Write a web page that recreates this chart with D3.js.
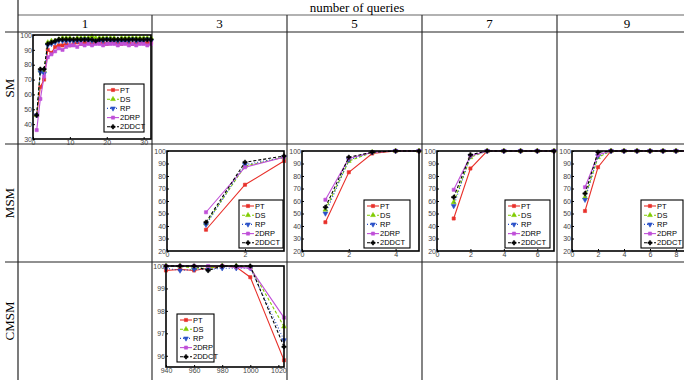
<!DOCTYPE html>
<html>
<head>
<meta charset="utf-8">
<script src="https://cdn.jsdelivr.net/npm/d3@7"></script>
<style>
  body { margin: 0; background: #fff; }
  svg { display: block; }
  .tick text { font-family: "Liberation Sans", Arial, sans-serif; }
</style>
</head>
<body>
<svg id="chart" width="684" height="380"></svg>
<script>
'use strict';

// table headers
var headerTitle = 'number of queries';
var queryCounts = ['1', '3', '5', '7', '9'];
var rowLabels = ['SM', 'MSM', 'CMSM'];
var seriesNames = ['PT', 'DS', 'RP', '2DRP', '2DDCT'];

// SM, 1 query
var smX = [1, 2, 3, 4, 5, 6, 7, 8, 9, 10, 11, 12, 13, 14, 15, 16, 17, 18, 19, 20, 21, 22, 23, 24, 25, 26, 27, 28, 29, 30, 31, 32];
var smPT    = [46, 65, 70, 90, 88, 92, 93, 93, 94, 93, 94, 95, 94, 95, 95, 94, 95, 95, 95, 94, 95, 95, 95, 94, 95, 95, 94, 95, 95, 95, 95, 95];
var smDS    = [46, 76, 76, 95, 96, 96, 97, 98, 98, 98, 97, 98, 98, 98, 98, 99, 98, 98, 98, 98, 98, 98, 97, 98, 98, 98, 98, 98, 98, 98, 98, 98];
var smRP    = [46, 75, 74, 93, 94, 95, 96, 96, 96, 96, 96, 96, 96, 97, 96, 96, 96, 96, 96, 97, 96, 96, 96, 96, 96, 96, 97, 96, 96, 96, 97, 96];
var sm2DRP  = [36, 57, 72, 85, 87, 89, 91, 90, 92, 93, 93, 92, 94, 93, 94, 93, 94, 94, 93, 94, 94, 94, 93, 94, 94, 93, 94, 93, 94, 94, 93, 94];
var sm2DDCT = [46, 77, 77, 94, 95, 96, 97, 97, 97, 97, 97, 97, 97, 97, 97, 97, 96, 97, 97, 97, 97, 97, 97, 97, 97, 97, 97, 97, 97, 97, 97, 97];

// MSM, 3 queries
var msm3X = [1, 2, 3];
var msm3PT = [37, 73, 92];
var msm3DS = [42, 88, 95];
var msm3RP = [41, 89, 95];
var msm32DRP = [51, 87, 95];
var msm32DDCT = [43, 91, 96];

// MSM, 5 queries
var msm5X = [1, 2, 3, 4, 5];
var msm5PT = [43, 83, 98, 100, 100];
var msm5DS = [53, 92, 99, 100, 100];
var msm5RP = [50, 93, 99, 100, 100];
var msm52DRP = [61, 94, 99, 100, 100];
var msm52DDCT = [55, 95, 99, 100, 100];

// MSM, 7 queries
var msm7X = [1, 2, 3, 4, 5, 6, 7];
var msm7PT = [46, 86, 100, 100, 100, 100, 100];
var msm7DS = [59, 95, 100, 100, 100, 100, 100];
var msm7RP = [56, 96, 100, 100, 100, 100, 100];
var msm72DRP = [69, 96, 100, 100, 100, 100, 100];
var msm72DDCT = [63, 97, 100, 100, 100, 100, 100];

// MSM, 9 queries
var msm9X = [1, 2, 3, 4, 5, 6, 7, 8, 9];
var msm9PT = [52, 87, 100, 100, 100, 100, 100, 100, 100];
var msm9DS = [63, 95, 100, 100, 100, 100, 100, 100, 100];
var msm9RP = [61, 96, 100, 100, 100, 100, 100, 100, 100];
var msm92DRP = [71, 97, 100, 100, 100, 100, 100, 100, 100];
var msm92DDCT = [66, 99, 100, 100, 100, 100, 100, 100, 100];

// CMSM, 3 queries
var cmsmX = [940, 950, 960, 970, 980, 990, 1000, 1024];
var cmsmPT = [99.8, 99.85, 99.8, 99.9, 100, 99.95, 99.5, 95.8];
var cmsmDS = [100, 100, 99.9, 99.9, 100, 100, 99.95, 97.3];
var cmsmRP = [99.9, 99.8, 99.85, 99.85, 99.9, 99.9, 99.9, 96.7];
var cmsm2DRP = [100, 100, 100, 100, 100, 99.95, 99.9, 97.7];
var cmsm2DDCT = [100, 100, 100, 99.8, 100, 100, 100, 96.4];

// styles per series
var colors = ['#e8302a', '#80cc00', '#2a50c8', '#c050d8', '#000000'];
var dashes = [null, '3,2', '1,2', null, '3,2'];
var markers = [d3.symbolSquare, d3.symbolTriangle, d3.symbolTriangle, d3.symbolSquare, d3.symbolCross];
var markerRot = [0, 0, 180, 0, 0];

var svg = d3.select('#chart');
var serif = '"Liberation Serif", "Times New Roman", serif';

// table grid
var colEdges = [18, 152, 287, 422, 557, 697];
var rowEdges = [32, 144, 262, 380];

svg.append('line').attr('x1', 18).attr('x2', 684).attr('y1', 15).attr('y2', 15)
    .attr('stroke', '#999').attr('stroke-width', 1.5);
svg.append('line').attr('x1', 18).attr('x2', 18).attr('y1', 0).attr('y2', 380)
    .attr('stroke', '#222').attr('stroke-width', 1.2);
colEdges.slice(1, 5).forEach(function(x) {
    svg.append('line').attr('x1', x).attr('x2', x).attr('y1', 15).attr('y2', 380)
        .attr('stroke', '#333').attr('stroke-width', 1.2);
});
rowEdges.slice(0, 3).forEach(function(y) {
    svg.append('line').attr('x1', 5).attr('x2', 684).attr('y1', y).attr('y2', y)
        .attr('stroke', '#222').attr('stroke-width', 1.2);
});

svg.append('text').attr('x', 357).attr('y', 12).attr('text-anchor', 'middle')
    .attr('font-family', serif).attr('font-size', 13).text(headerTitle);

queryCounts.forEach(function(q, i) {
    svg.append('text').attr('x', (colEdges[i] + colEdges[i + 1]) / 2).attr('y', 28)
        .attr('text-anchor', 'middle').attr('font-family', serif).attr('font-size', 13).text(q);
});

rowLabels.forEach(function(r, i) {
    var cy = (rowEdges[i] + rowEdges[i + 1]) / 2;
    svg.append('text').attr('transform', 'translate(14,' + cy + ') rotate(-90)')
        .attr('text-anchor', 'middle').attr('font-family', serif).attr('font-size', 13).text(r);
});

// draws one small matlab-style plot
function drawPanel(p) {
    var x = d3.scaleLinear().domain(p.xDomain).range([p.left, p.left + p.width]);
    var y = d3.scaleLinear().domain(p.yDomain).range([p.top + p.height, p.top]);

    var g = svg.append('g');
    var clipId = 'clip' + p.left + '_' + p.top;
    g.append('clipPath').attr('id', clipId).append('rect')
        .attr('x', 0).attr('y', p.top - 6).attr('width', 684).attr('height', p.height + 12);

    g.append('rect').attr('x', p.left).attr('y', p.top).attr('width', p.width).attr('height', p.height)
        .attr('fill', '#fff');

    var yAxis = d3.axisLeft(y).tickValues(p.yTicks).tickSize(-2).tickPadding(1).tickFormat(d3.format('d'));
    var xAxis = d3.axisBottom(x).tickValues(p.xTicks).tickSize(-2).tickPadding(1).tickFormat(d3.format('d'));

    var ya = g.append('g').attr('transform', 'translate(' + p.left + ',0)').call(yAxis);
    var xa = g.append('g').attr('transform', 'translate(0,' + (p.top + p.height) + ')').call(xAxis);
    [ya, xa].forEach(function(a) {
        a.select('.domain').remove();
        a.selectAll('text').attr('font-size', 7).attr('fill', '#444');
        a.selectAll('line').attr('stroke', '#000');
    });

    var line = d3.line().x(function(d) { return x(d[0]); }).y(function(d) { return y(d[1]); });

    var plot = g.append('g').attr('clip-path', 'url(#' + clipId + ')');
    p.series.forEach(function(vals, si) {
        var pts = p.xs.map(function(xv, k) { return [xv, vals[k]]; });
        plot.append('path').datum(pts).attr('d', line).attr('fill', 'none')
            .attr('stroke', colors[si]).attr('stroke-width', 1.1)
            .attr('stroke-dasharray', dashes[si]);
        plot.selectAll('.m' + si).data(pts).enter().append('path')
            .attr('d', d3.symbol().type(markers[si]).size(10))
            .attr('transform', function(d) {
                return 'translate(' + x(d[0]) + ',' + y(d[1]) + ') rotate(' + markerRot[si] + ')';
            })
            .attr('fill', colors[si]).attr('stroke', colors[si]).attr('stroke-width', 0.6);
    });

    g.append('rect').attr('x', p.left).attr('y', p.top).attr('width', p.width).attr('height', p.height)
        .attr('fill', 'none').attr('stroke', '#000').attr('stroke-width', 1.6);

    // legend
    var lg = g.append('g').attr('transform', 'translate(' + p.legend[0] + ',' + p.legend[1] + ')');
    lg.append('rect').attr('width', p.legend[2]).attr('height', 48)
        .attr('fill', '#fff').attr('stroke', '#000').attr('stroke-width', 1.1);
    seriesNames.forEach(function(name, si) {
        var ly = 6 + si * 9.2;
        lg.append('line').attr('x1', 3).attr('x2', 15).attr('y1', ly).attr('y2', ly)
            .attr('stroke', colors[si]).attr('stroke-width', 1.1).attr('stroke-dasharray', dashes[si]);
        lg.append('path').attr('d', d3.symbol().type(markers[si]).size(10))
            .attr('transform', 'translate(9,' + ly + ') rotate(' + markerRot[si] + ')')
            .attr('fill', colors[si]).attr('stroke', colors[si]).attr('stroke-width', 0.6);
        lg.append('text').attr('x', 16).attr('y', ly + 2.6)
            .attr('font-family', '"Liberation Sans", Arial, sans-serif').attr('font-size', 7.5)
            .text(name);
    });
}

var msmTicksY = [20, 30, 40, 50, 60, 70, 80, 90, 100];

drawPanel({
    left: 33, top: 35, width: 118, height: 104,
    xDomain: [0, 32], yDomain: [30, 100],
    xTicks: [0, 10, 20, 30], yTicks: [30, 40, 50, 60, 70, 80, 90, 100],
    xs: smX, series: [smPT, smDS, smRP, sm2DRP, sm2DDCT],
    legend: [104, 84, 40]
});
drawPanel({
    left: 167, top: 151, width: 117, height: 100,
    xDomain: [0, 3], yDomain: [20, 100],
    xTicks: [0, 2], yTicks: msmTicksY,
    xs: msm3X, series: [msm3PT, msm3DS, msm3RP, msm32DRP, msm32DDCT],
    legend: [239, 200, 44]
});
drawPanel({
    left: 302, top: 151, width: 117, height: 100,
    xDomain: [0, 5], yDomain: [20, 100],
    xTicks: [0, 2, 4], yTicks: msmTicksY,
    xs: msm5X, series: [msm5PT, msm5DS, msm5RP, msm52DRP, msm52DDCT],
    legend: [364, 200, 46]
});
drawPanel({
    left: 437, top: 151, width: 117, height: 100,
    xDomain: [0, 7], yDomain: [20, 100],
    xTicks: [0, 2, 4, 6], yTicks: msmTicksY,
    xs: msm7X, series: [msm7PT, msm7DS, msm7RP, msm72DRP, msm72DDCT],
    legend: [505, 200, 45]
});
drawPanel({
    left: 572, top: 151, width: 117, height: 100,
    xDomain: [0, 9], yDomain: [20, 100],
    xTicks: [0, 2, 4, 6, 8], yTicks: msmTicksY,
    xs: msm9X, series: [msm9PT, msm9DS, msm9RP, msm92DRP, msm92DDCT],
    legend: [641, 200, 42]
});
drawPanel({
    left: 166, top: 266, width: 118, height: 101,
    xDomain: [940, 1024], yDomain: [95.5, 100],
    xTicks: [940, 960, 980, 1000, 1020], yTicks: [96, 97, 98, 99, 100],
    xs: cmsmX, series: [cmsmPT, cmsmDS, cmsmRP, cmsm2DRP, cmsm2DDCT],
    legend: [177, 314, 37]
});
</script>
</body>
</html>
